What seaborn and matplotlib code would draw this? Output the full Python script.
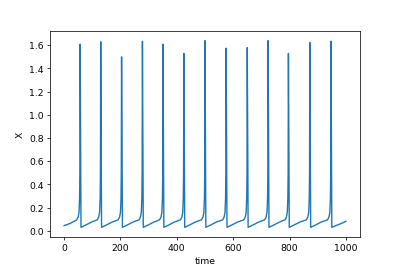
import matplotlib
matplotlib.use("Agg")
import matplotlib.pyplot as plt
import seaborn as sns
import pandas as pd

time = [
    0, 20, 38, 45, 50, 53, 55, 56, 57,
    60, 77, 97, 118, 123, 126, 128, 129, 130,
    133, 150, 170, 192, 197, 200, 202, 203, 204,
    207, 224, 244, 266, 271, 274, 276, 277, 278,
    281, 298, 318, 339, 344, 347, 349, 350, 351,
    354, 371, 391, 413, 418, 421, 423, 424, 425,
    428, 445, 465, 488, 493, 496, 498, 499, 500,
    503, 520, 540, 563, 568, 571, 573, 574, 575,
    578, 595, 615, 638, 643, 646, 648, 649, 650,
    653, 670, 690, 712, 717, 720, 722, 723, 724,
    727, 744, 764, 784, 789, 792, 794, 795, 796,
    799, 816, 836, 860, 865, 868, 870, 871, 872,
    875, 892, 912, 935, 940, 943, 945, 946, 947,
    950, 970, 990, 1000,
]
x = [
    0.045, 0.062, 0.085, 0.095, 0.12, 0.16, 0.28, 0.5, 1.61,
    0.03, 0.05, 0.075, 0.095, 0.12, 0.16, 0.28, 0.5, 1.63,
    0.03, 0.05, 0.075, 0.095, 0.12, 0.16, 0.28, 0.5, 1.50,
    0.03, 0.05, 0.075, 0.095, 0.12, 0.16, 0.28, 0.5, 1.635,
    0.03, 0.05, 0.075, 0.095, 0.12, 0.16, 0.28, 0.5, 1.61,
    0.03, 0.05, 0.075, 0.095, 0.12, 0.16, 0.28, 0.5, 1.53,
    0.03, 0.05, 0.075, 0.095, 0.12, 0.16, 0.28, 0.5, 1.64,
    0.03, 0.05, 0.075, 0.095, 0.12, 0.16, 0.28, 0.5, 1.575,
    0.03, 0.05, 0.075, 0.095, 0.12, 0.16, 0.28, 0.5, 1.58,
    0.03, 0.05, 0.075, 0.095, 0.12, 0.16, 0.28, 0.5, 1.64,
    0.03, 0.05, 0.075, 0.095, 0.12, 0.16, 0.28, 0.5, 1.53,
    0.03, 0.05, 0.075, 0.095, 0.12, 0.16, 0.28, 0.5, 1.625,
    0.03, 0.05, 0.075, 0.095, 0.12, 0.16, 0.28, 0.5, 1.635,
    0.03, 0.05, 0.07, 0.082,
]

df = pd.DataFrame({"time": time, "X": x})

fig, ax = plt.subplots(figsize=(6, 4), dpi=400 / 6)
sns.lineplot(data=df, x="time", y="X", ax=ax, color="#1f77b4", linewidth=1.5,
             estimator=None, sort=False)
ax.set_xlabel("time")
ax.set_ylabel("X")
fig.savefig("out.png", dpi=400 / 6)
